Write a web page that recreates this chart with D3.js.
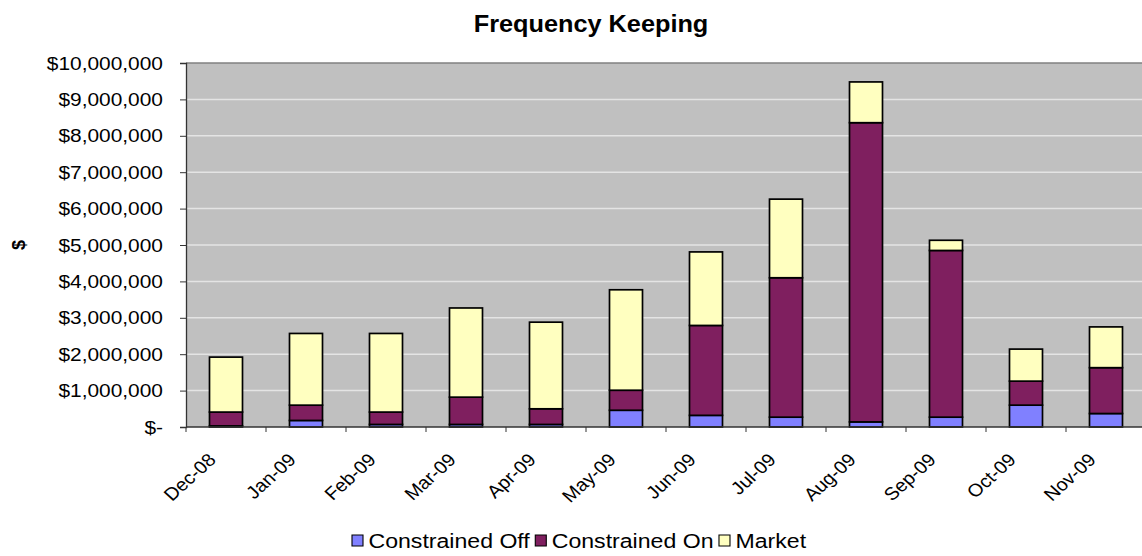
<!DOCTYPE html>
<html>
<head>
<meta charset="utf-8">
<script src="https://cdn.jsdelivr.net/npm/d3@7"></script>
<style>
  html, body { margin: 0; padding: 0; background: #fff; }
  svg { display: block; font-family: "Liberation Sans", Arial, sans-serif; }
</style>
</head>
<body>
<svg id="chart" width="1142" height="556"></svg>
<script>
// Monthly frequency keeping costs ($), split by component
const months = ["Dec-08", "Jan-09", "Feb-09", "Mar-09", "Apr-09", "May-09",
                "Jun-09", "Jul-09", "Aug-09", "Sep-09", "Oct-09", "Nov-09"];
const constrainedOff = [30000, 180000, 70000, 70000, 70000, 460000,
                        320000, 270000, 140000, 270000, 600000, 370000];
const constrainedOn  = [380000, 420000, 340000, 750000, 430000, 550000,
                        2470000, 3830000, 8220000, 4580000, 660000, 1260000];
const market         = [1510000, 1970000, 2160000, 2450000, 2380000, 2760000,
                        2020000, 2160000, 1120000, 280000, 880000, 1120000];
const seriesNames = ["Constrained Off", "Constrained On", "Market"];
const yTicks = [0, 1e6, 2e6, 3e6, 4e6, 5e6, 6e6, 7e6, 8e6, 9e6, 10e6];

const colors = ["#8080FF", "#7F1F5F", "#FFFFC0"];
const textStretch = 1.1; // labels are drawn slightly wide

const svg = d3.select("#chart");
const plot = { left: 186, right: 1146, top: 63, bottom: 427 };

const rows = months.map((m, i) => ({
  month: m,
  "Constrained Off": constrainedOff[i],
  "Constrained On": constrainedOn[i],
  "Market": market[i]
}));
const stacked = d3.stack().keys(seriesNames)(rows);

const x = d3.scaleBand().domain(months).range([plot.left, plot.right])
  .paddingInner(0.5875).paddingOuter(0.29375);
const xBand = d3.scaleBand().domain(months).range([plot.left, plot.right]);
const y = d3.scaleLinear().domain([0, 10e6]).range([plot.bottom, plot.top]);

// plot background
svg.append("rect")
  .attr("x", plot.left).attr("y", plot.top)
  .attr("width", plot.right - plot.left).attr("height", plot.bottom - plot.top)
  .attr("fill", "#C0C0C0");

// horizontal gridlines
svg.append("g").selectAll("line")
  .data(yTicks.filter(d => d > 0 && d < 10e6))
  .join("line")
  .attr("x1", plot.left).attr("x2", plot.right)
  .attr("y1", d => y(d)).attr("y2", d => y(d))
  .attr("stroke", "#E4E4E4").attr("stroke-width", 1.5);

// top border
svg.append("line")
  .attr("x1", plot.left).attr("x2", plot.right)
  .attr("y1", plot.top).attr("y2", plot.top)
  .attr("stroke", "#808080").attr("stroke-width", 1.5);

// stacked bars
svg.append("g").selectAll("g")
  .data(stacked)
  .join("g")
  .attr("fill", (d, i) => colors[i])
  .selectAll("rect")
  .data(d => d)
  .join("rect")
  .attr("x", d => x(d.data.month))
  .attr("y", d => y(d[1]))
  .attr("width", x.bandwidth())
  .attr("height", d => y(d[0]) - y(d[1]))
  .attr("stroke", "#000").attr("stroke-width", 1.7);

// y axis
const yAxis = d3.axisLeft(y)
  .tickValues(yTicks)
  .tickSize(6)
  .tickPadding(17)
  .tickFormat(d => d === 0 ? "$-" : "$" + d3.format(",")(d));
const gy = svg.append("g").attr("transform", `translate(${plot.left},0)`).call(yAxis);
gy.select(".domain").attr("stroke", "#333").attr("stroke-width", 1.3);
gy.selectAll(".tick line").attr("stroke", "#333");
gy.selectAll(".tick text")
  .attr("x", 0)
  .attr("transform", `translate(-23,0) scale(${textStretch},1)`)
  .attr("font-size", 19).attr("fill", "#000")
  .attr("font-family", "Liberation Sans, Arial, sans-serif");

// x axis with ticks on category boundaries
const gx = svg.append("g");
gx.append("line")
  .attr("x1", plot.left).attr("x2", plot.right)
  .attr("y1", plot.bottom).attr("y2", plot.bottom)
  .attr("stroke", "#333").attr("stroke-width", 1.3);
gx.selectAll("line.tk")
  .data(d3.range(months.length + 1))
  .join("line")
  .attr("class", "tk")
  .attr("x1", i => plot.left + i * xBand.step())
  .attr("x2", i => plot.left + i * xBand.step())
  .attr("y1", plot.bottom).attr("y2", plot.bottom + 5)
  .attr("stroke", "#333");
gx.selectAll("text")
  .data(months)
  .join("text")
  .attr("transform", d =>
    `translate(${xBand(d) + xBand.bandwidth() / 2 - 9},${plot.bottom + 34}) scale(${textStretch},1) rotate(-45)`)
  .attr("text-anchor", "end")
  .attr("font-size", 18)
  .text(d => d);

// title
svg.append("text")
  .attr("transform", `translate(591,32) scale(${textStretch},1)`)
  .attr("text-anchor", "middle")
  .attr("font-weight", "bold")
  .attr("font-size", 23)
  .text("Frequency Keeping");

// y axis title
svg.append("text")
  .attr("transform", "translate(25,245) rotate(-90)")
  .attr("text-anchor", "middle")
  .attr("font-weight", "bold")
  .attr("font-size", 18)
  .text("$");

// legend
const legend = svg.append("g").attr("transform", `translate(352,541) scale(${textStretch},1)`);
let lx = 0;
seriesNames.forEach((name, i) => {
  legend.append("rect")
    .attr("x", lx).attr("y", -6).attr("width", 10).attr("height", 11)
    .attr("fill", colors[i]).attr("stroke", "#000").attr("stroke-width", 1);
  const t = legend.append("text")
    .attr("x", lx + 15).attr("y", 7)
    .attr("font-size", 21)
    .text(name);
  lx += 15 + t.node().getComputedTextLength() + 5;
});
</script>
</body>
</html>
